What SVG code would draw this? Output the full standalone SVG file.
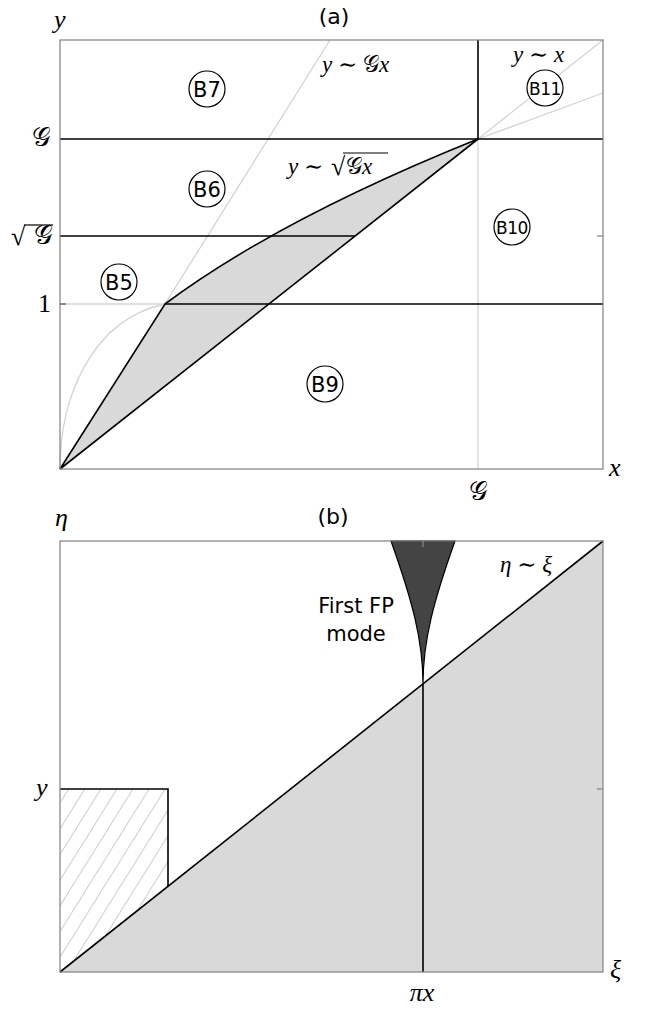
<svg xmlns="http://www.w3.org/2000/svg" width="656" height="1009" viewBox="0 0 656 1009">
<style>
.frame{fill:none;stroke:#808080;stroke-width:1.2}
.blk{fill:none;stroke:#000;stroke-width:1.6}
.lg{fill:none;stroke:#d4d4d4;stroke-width:1.3}
.math{font-family:"Liberation Serif","DejaVu Serif",serif;font-style:italic;font-size:26px;fill:#000}
.frm{font-family:"Liberation Serif","DejaVu Serif",serif;font-style:italic;font-size:23px;fill:#000}
.op{font-style:normal;font-family:"DejaVu Serif",serif}
.cal{font-style:normal;font-family:"DejaVu Serif","DejaVu Sans","Noto Sans",serif}
.num{font-family:"Liberation Serif","DejaVu Serif",serif;font-size:26px;fill:#000}
.sans{font-family:"DejaVu Sans",sans-serif;fill:#000}
.bc{fill:#fff;stroke:#000;stroke-width:1.2}
</style>
<defs>
<pattern id="hatch" patternUnits="userSpaceOnUse" width="13.6" height="40" patternTransform="rotate(32)">
<line x1="0" y1="0" x2="0" y2="40" stroke="#9a9a9a" stroke-width="1"/>
</pattern>
</defs>
<rect width="656" height="1009" fill="#fff"/>

<g id="panel-a">
<path d="M60,469 L165,304 Q279,219 478,139 Z" fill="#d9d9d9"/>
<g class="lg">
<path d="M60,469 C60,400 90,320 165,304"/>
<line x1="165" y1="304" x2="330" y2="40"/>
<line x1="60" y1="304" x2="165" y2="304"/>
<line x1="478" y1="139" x2="478" y2="469"/>
<line x1="478" y1="139" x2="603" y2="40"/>
<line x1="478" y1="139" x2="603" y2="93"/>
</g>
<g class="blk">
<line x1="60" y1="139" x2="603" y2="139"/>
<line x1="478" y1="40" x2="478" y2="139"/>
<line x1="60" y1="236" x2="355" y2="236"/>
<line x1="165" y1="304" x2="603" y2="304"/>
<path d="M60,469 L165,304 Q279,219 478,139 L60,469"/>
</g>
<rect class="frame" x="60" y="40" width="543" height="429"/>
<line x1="60" y1="304" x2="66" y2="304" stroke="#555" stroke-width="1.2"/>
<line x1="597" y1="236" x2="603" y2="236" stroke="#808080" stroke-width="1.2"/>
</g>

<g id="labels-a">
<text class="sans" x="334" y="24" font-size="22" text-anchor="middle">(a)</text>
<text class="math" x="54" y="28">y</text>
<text class="math" x="609" y="476">x</text>
<text class="math cal" x="478" y="500" text-anchor="middle">𝒢</text>
<text class="math cal" x="51" y="146" text-anchor="end">𝒢</text>
<text class="num" x="11" y="245" font-size="28">√</text>
<line x1="24" y1="225" x2="53" y2="225" stroke="#000" stroke-width="1.2"/>
<text class="math cal" x="53" y="244" text-anchor="end">𝒢</text>
<text class="num" x="51" y="312" text-anchor="end">1</text>
<text class="frm" x="322" y="72">y <tspan class="op">∼</tspan> <tspan class="cal">𝒢</tspan>x</text>
<text class="frm" x="513" y="62">y <tspan class="op">∼</tspan> x</text>
<text class="frm" x="288" y="174">y <tspan class="op">∼</tspan></text>
<text class="num" x="331" y="175" font-size="25">√</text>
<line x1="343" y1="153" x2="388" y2="153" stroke="#000" stroke-width="1.2"/>
<text class="frm" x="346" y="174"><tspan class="cal">𝒢</tspan>x</text>
</g>

<g id="B7"><circle class="bc" cx="207" cy="89" r="18"/><text class="sans" x="207" y="97" font-size="21" text-anchor="middle">B7</text></g>
<g id="B6"><circle class="bc" cx="207" cy="189" r="18"/><text class="sans" x="207" y="197" font-size="21" text-anchor="middle">B6</text></g>
<g id="B5"><circle class="bc" cx="119" cy="282" r="18"/><text class="sans" x="119" y="290" font-size="21" text-anchor="middle">B5</text></g>
<g id="B9"><circle class="bc" cx="325" cy="384" r="18"/><text class="sans" x="325" y="392" font-size="21" text-anchor="middle">B9</text></g>
<g id="B10"><circle class="bc" cx="512" cy="227" r="18"/><text class="sans" x="512" y="233.5" font-size="17" text-anchor="middle" letter-spacing="-0.4">B10</text></g>
<g id="B11"><circle class="bc" cx="545" cy="88" r="18"/><text class="sans" x="545" y="94.5" font-size="17" text-anchor="middle" letter-spacing="-0.4">B11</text></g>

<g id="panel-b">
<path d="M60,972 L603,541 L603,972 Z" fill="#d9d9d9"/>
<path d="M60,789 L168,789 L168,886 L60,972 Z" fill="url(#hatch)"/>
<path d="M391,541 C412,600 423,640 423,684 C423,640 434,600 455,541 Z" fill="#444" stroke="#000" stroke-width="1.2"/>
<line x1="423" y1="541" x2="423" y2="547" stroke="#999" stroke-width="1"/>
<g class="blk">
<line x1="60" y1="972" x2="603" y2="541"/>
<line x1="423" y1="684" x2="423" y2="972"/>
<polyline points="60,789 168,789 168,886"/>
</g>
<rect class="frame" x="60" y="541" width="543" height="431"/>
<line x1="597" y1="789" x2="603" y2="789" stroke="#808080" stroke-width="1.2"/>
</g>

<g id="labels-b">
<text class="sans" x="333" y="524" font-size="22" text-anchor="middle">(b)</text>
<text class="math" x="55" y="526">η</text>
<text class="math" x="36" y="796">y</text>
<text class="math" x="610" y="978">ξ</text>
<text class="math" x="422" y="1001" text-anchor="middle">πx</text>
<text class="frm" x="500" y="572">η <tspan class="op">∼</tspan> ξ</text>
<text class="sans" x="356" y="613" font-size="21" text-anchor="middle">First FP</text>
<text class="sans" x="356" y="641" font-size="21" text-anchor="middle">mode</text>
</g>
</svg>
